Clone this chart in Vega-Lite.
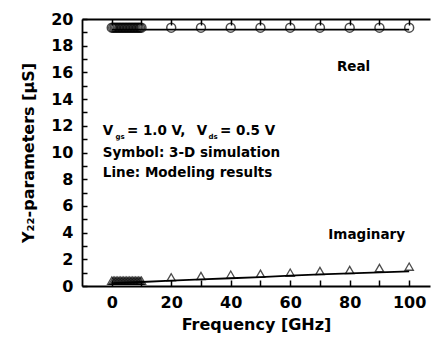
{
  "$schema": "https://vega.github.io/schema/vega-lite/v6.json",
  "width": 348,
  "height": 267,
  "autosize": {"type": "none"},
  "padding": {"left": 82, "top": 19, "right": 1, "bottom": 52},
  "background": "white",
  "config": {
    "view": {"stroke": null},
    "axis": {
      "grid": false,
      "ticks": true,
      "domainColor": "black",
      "domainWidth": 1.8,
      "tickColor": "black",
      "tickWidth": 1.5,
      "labelColor": "black",
      "titleColor": "black",
      "labelFont": "DejaVu Sans",
      "titleFont": "DejaVu Sans",
      "labelFontWeight": "bold",
      "titleFontWeight": "bold",
      "labelFontSize": 16,
      "titleFontSize": 16
    },
    "text": {"font": "DejaVu Sans", "fontWeight": "bold", "color": "black"}
  },
  "datasets": {
    "model": [
      {"f": 0, "v": 19.2, "part": "Real"},
      {"f": 100, "v": 19.2, "part": "Real"},
      {"f": 0, "v": 0.22, "part": "Imaginary"},
      {"f": 10, "v": 0.3, "part": "Imaginary"},
      {"f": 20, "v": 0.4, "part": "Imaginary"},
      {"f": 30, "v": 0.5, "part": "Imaginary"},
      {"f": 40, "v": 0.58, "part": "Imaginary"},
      {"f": 50, "v": 0.66, "part": "Imaginary"},
      {"f": 60, "v": 0.78, "part": "Imaginary"},
      {"f": 70, "v": 0.87, "part": "Imaginary"},
      {"f": 80, "v": 0.95, "part": "Imaginary"},
      {"f": 90, "v": 1.02, "part": "Imaginary"},
      {"f": 100, "v": 1.1, "part": "Imaginary"}
    ],
    "simReal": [
      {"f": 0, "v": 19.35}, {"f": 0.5, "v": 19.35}, {"f": 1, "v": 19.35}, {"f": 1.5, "v": 19.35},
      {"f": 2, "v": 19.35}, {"f": 2.5, "v": 19.35}, {"f": 3, "v": 19.35}, {"f": 3.5, "v": 19.35},
      {"f": 4, "v": 19.35}, {"f": 4.5, "v": 19.35}, {"f": 5, "v": 19.35}, {"f": 5.5, "v": 19.35},
      {"f": 6, "v": 19.35}, {"f": 6.5, "v": 19.35}, {"f": 7, "v": 19.35}, {"f": 7.5, "v": 19.35},
      {"f": 8, "v": 19.35}, {"f": 8.5, "v": 19.35}, {"f": 9, "v": 19.35}, {"f": 9.5, "v": 19.35},
      {"f": 10, "v": 19.35}, {"f": 20, "v": 19.35}, {"f": 30, "v": 19.35}, {"f": 40, "v": 19.35},
      {"f": 50, "v": 19.35}, {"f": 60, "v": 19.35}, {"f": 70, "v": 19.35}, {"f": 80, "v": 19.35},
      {"f": 90, "v": 19.35}, {"f": 100, "v": 19.35}
    ],
    "simImag": [
      {"f": 0, "v": 0.4}, {"f": 0.5, "v": 0.4}, {"f": 1, "v": 0.4}, {"f": 1.5, "v": 0.4},
      {"f": 2, "v": 0.4}, {"f": 2.5, "v": 0.4}, {"f": 3, "v": 0.4}, {"f": 3.5, "v": 0.4},
      {"f": 4, "v": 0.4}, {"f": 4.5, "v": 0.4}, {"f": 5, "v": 0.4}, {"f": 5.5, "v": 0.4},
      {"f": 6, "v": 0.4}, {"f": 6.5, "v": 0.4}, {"f": 7, "v": 0.4}, {"f": 7.5, "v": 0.4},
      {"f": 8, "v": 0.4}, {"f": 8.5, "v": 0.4}, {"f": 9, "v": 0.4}, {"f": 9.5, "v": 0.4},
      {"f": 10, "v": 0.4}, {"f": 20, "v": 0.65}, {"f": 30, "v": 0.75}, {"f": 40, "v": 0.85},
      {"f": 50, "v": 0.92}, {"f": 60, "v": 1.0}, {"f": 70, "v": 1.12}, {"f": 80, "v": 1.2},
      {"f": 90, "v": 1.35}, {"f": 100, "v": 1.45}
    ]
  },
  "resolve": {"axis": {"x": "independent", "y": "independent"}},
  "layer": [
    {
      "data": {"name": "model"},
      "mark": {"type": "line", "color": "black", "strokeWidth": 1.8},
      "encoding": {
        "x": {
          "field": "f", "type": "quantitative",
          "scale": {"domain": [-10, 107], "nice": false, "zero": false},
          "axis": {
            "orient": "bottom",
            "title": "Frequency [GHz]",
            "values": [0, 10, 20, 30, 40, 50, 60, 70, 80, 90, 100],
            "labelExpr": "datum.value % 20 === 0 ? datum.label : ''",
            "labelOverlap": false,
            "ticks": true,
            "tickSize": -6,
            "labelPadding": 14,
            "titlePadding": 6
          }
        },
        "y": {
          "field": "v", "type": "quantitative",
          "scale": {"domain": [0, 20], "nice": false},
          "axis": {
            "orient": "left",
            "title": "Y₂₂-parameters [μS]",
            "values": [0, 1, 2, 3, 4, 5, 6, 7, 8, 9, 10, 11, 12, 13, 14, 15, 16, 17, 18, 19, 20],
            "labelExpr": "datum.value % 2 === 0 ? datum.label : ''",
            "labelOverlap": false,
            "ticks": true,
            "tickSize": -5,
            "labelPadding": 14,
            "titlePadding": 14
          }
        },
        "detail": {"field": "part"}
      }
    },
    {
      "data": {"name": "simReal"},
      "mark": {"type": "point", "shape": "circle", "filled": false, "stroke": "black", "strokeWidth": 1.5, "size": 80},
      "encoding": {
        "x": {"field": "f", "type": "quantitative", "axis": {"orient": "top", "title": null, "labels": false, "ticks": true, "values": [0, 10, 20, 30, 40, 50, 60, 70, 80, 90, 100], "tickSize": -6}},
        "y": {"field": "v", "type": "quantitative", "axis": null}
      }
    },
    {
      "data": {"name": "simImag"},
      "mark": {"type": "point", "shape": "triangle-up", "filled": false, "stroke": "black", "strokeWidth": 1.3, "size": 70},
      "encoding": {
        "x": {"field": "f", "type": "quantitative", "axis": null},
        "y": {"field": "v", "type": "quantitative", "axis": null}
      }
    },
    {
      "data": {"values": [
        {"x": -3.0, "y": 11.6, "t": "V", "k": "main"},
        {"x": 1.3, "y": 11.15, "t": "gs", "k": "sub"},
        {"x": 5.1, "y": 11.6, "t": "= 1.0 V,", "k": "main"},
        {"x": 28.6, "y": 11.6, "t": "V", "k": "main"},
        {"x": 32.5, "y": 11.15, "t": "ds", "k": "sub"},
        {"x": 36.4, "y": 11.6, "t": "= 0.5 V", "k": "main"},
        {"x": -3.0, "y": 9.95, "t": "Symbol: 3-D simulation", "k": "main"},
        {"x": -3.0, "y": 8.5, "t": "Line: Modeling results", "k": "main"}
      ]},
      "mark": {"type": "text", "align": "left", "baseline": "middle"},
      "encoding": {
        "x": {"field": "x", "type": "quantitative", "axis": null},
        "y": {"field": "y", "type": "quantitative", "axis": null},
        "text": {"field": "t"},
        "size": {"field": "k", "type": "nominal", "scale": {"domain": ["main", "sub"], "range": [13.5, 7]}, "legend": null}
      }
    },
    {
      "data": {"values": [
        {"x": 81.3, "y": 16.4, "t": "Real"},
        {"x": 85.7, "y": 3.82, "t": "Imaginary"}
      ]},
      "mark": {"type": "text", "align": "center", "baseline": "middle", "fontSize": 13.5},
      "encoding": {
        "x": {"field": "x", "type": "quantitative", "axis": null},
        "y": {"field": "y", "type": "quantitative", "axis": null},
        "text": {"field": "t"}
      }
    }
  ]
}
